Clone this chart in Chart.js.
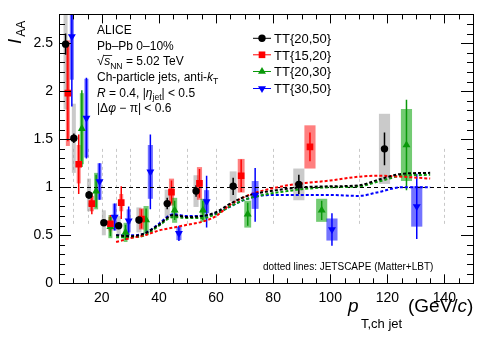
<!DOCTYPE html>
<html>
<head>
<meta charset="utf-8">
<script src="https://cdn.jsdelivr.net/npm/chart.js@4/dist/chart.umd.min.js"></script>
<style>
  html, body { margin: 0; padding: 0; background: #fff; }
</style>
</head>
<body>
<canvas id="chart" width="498" height="338"></canvas>
<script>
"use strict";

// TT{20,50}
const ptA = [7.3, 10.2, 15.5, 20.7, 25.9, 33.0, 42.9, 53.0, 66.0, 89.0, 119.0];
const iaaA = [2.49, 1.51, 0.92, 0.63, 0.60, 0.66, 0.83, 0.96, 1.01, 1.03, 1.40];
const statA = [0.11, 0.05, 0.04, 0.03, 0.03, 0.04, 0.06, 0.06, 0.09, 0.10, 0.17];
const sysA = [0.68, 0.36, 0.17, 0.13, 0.10, 0.13, 0.145, 0.165, 0.155, 0.165, 0.365];

// TT{15,20}
const ptB = [8.1, 11.9, 16.5, 23.0, 26.8, 33.9, 44.4, 54.2, 68.8, 92.9];
const iaaB = [1.98, 1.24, 0.83, 0.62, 0.84, 0.67, 0.95, 1.04, 1.12, 1.42];
const statB = [0.50, 0.31, 0.11, 0.09, 0.17, 0.10, 0.12, 0.15, 0.17, 0.15];
const sysB = [0.55, 0.20, 0.08, 0.07, 0.09, 0.11, 0.14, 0.17, 0.175, 0.225];

// TT{20,30}
const ptC = [13.0, 18.0, 23.0, 28.3, 35.5, 45.5, 55.4, 71.1, 97.0, 126.7];
const iaaC = [1.61, 0.96, 0.59, 0.53, 0.66, 0.76, 0.76, 0.72, 0.76, 1.44];
const statC = [0.40, 0.17, 0.10, 0.08, 0.12, 0.10, 0.10, 0.12, 0.10, 0.47];
const sysC = [0.37, 0.19, 0.12, 0.10, 0.145, 0.13, 0.12, 0.14, 0.12, 0.375];

// TT{30,50}
const ptD = [9.5, 14.6, 19.2, 24.5, 29.4, 37.0, 47.0, 56.7, 73.7, 100.6, 130.3];
const iaaD = [2.57, 1.72, 1.06, 0.69, 0.65, 1.16, 0.52, 0.85, 0.92, 0.56, 0.80];
const statD = [0.73, 0.42, 0.19, 0.14, 0.15, 0.39, 0.08, 0.27, 0.28, 0.17, 0.34];
const sysD = [0.45, 0.41, 0.19, 0.14, 0.12, 0.28, 0.07, 0.12, 0.145, 0.115, 0.21];

// JETSCAPE (Matter+LBT) curves
const jsPt = [25, 30, 35, 40, 45, 50, 55, 60, 65, 70, 75, 80, 85, 90, 100, 110, 117, 125, 135];
const jsA = [0.50, 0.49, 0.52, 0.61, 0.71, 0.69, 0.70, 0.74, 0.83, 0.90, 0.94, 0.965, 0.985, 1.0, 1.01, 1.02, 1.08, 1.14, 1.15];
const jsB = [0.43, 0.47, 0.50, 0.55, 0.58, 0.61, 0.64, 0.70, 0.82, 0.90, 0.955, 0.99, 1.02, 1.04, 1.07, 1.11, 1.12, 1.11, 1.09];
const jsC = [0.48, 0.48, 0.50, 0.60, 0.69, 0.68, 0.68, 0.72, 0.80, 0.87, 0.91, 0.94, 0.96, 0.98, 1.0, 1.01, 1.06, 1.12, 1.13];
const jsD = [0.50, 0.50, 0.52, 0.62, 0.72, 0.70, 0.70, 0.73, 0.80, 0.87, 0.91, 0.92, 0.92, 0.92, 0.92, 0.91, 0.95, 1.0, 1.0];

// bin edges (gray dashed guides)
const binEdges = [10, 15, 20, 25, 30, 40, 50, 60, 80, 110, 140];

const labels = ["TT{20,50}", "TT{15,20}", "TT{20,30}", "TT{30,50}"];

const FONT = '"Liberation Sans", Arial, Helvetica, sans-serif';
const GREEN = "#0a990a";

const series = [
  { pt: ptA, iaa: iaaA, stat: statA, sys: sysA, color: "#000000", box: "rgba(150,150,150,0.5)", style: "circle", radius: 3.7, rot: 0 },
  { pt: ptB, iaa: iaaB, stat: statB, sys: sysB, color: "#ff0000", box: "rgba(255,0,0,0.5)", style: "rect", radius: 4.7, rot: 0 },
  { pt: ptC, iaa: iaaC, stat: statC, sys: sysC, color: GREEN, box: "rgba(0,160,0,0.55)", style: "triangle", radius: 4.6, rot: 0 },
  { pt: ptD, iaa: iaaD, stat: statD, sys: sysD, color: "#0000ff", box: "rgba(0,0,255,0.55)", style: "triangle", radius: 4.6, rot: 180 },
];

function toXY(xs, ys) {
  return xs.map((x, i) => ({ x: x, y: ys[i] }));
}

// box half-width in GeV, wider bins at high pT
function boxHalf(pt) {
  if (pt < 30) return 0.7;
  if (pt < 60) return 0.9;
  if (pt < 80) return 1.2;
  return 1.95;
}

function drawMarker(ctx, style, x, y, r, rot, color) {
  ctx.fillStyle = color;
  ctx.beginPath();
  if (style === "circle") {
    ctx.arc(x, y, r, 0, Math.PI * 2);
  } else if (style === "rect") {
    const s = r * Math.SQRT1_2;
    ctx.rect(x - s, y - s, 2 * s, 2 * s);
  } else {
    let a = rot * Math.PI / 180;
    for (let k = 0; k < 3; k++) {
      const px = x + Math.sin(a) * r;
      const py = y - Math.cos(a) * r;
      if (k === 0) ctx.moveTo(px, py); else ctx.lineTo(px, py);
      a += Math.PI * 2 / 3;
    }
    ctx.closePath();
  }
  ctx.fill();
}

function richText(ctx, x, y, parts, size) {
  let cx = x;
  for (const [t, k] of parts) {
    const sub = k === "sub";
    const sz = sub ? size * 0.72 : size;
    ctx.font = (k === "i" ? "italic " : "") + sz + "px " + FONT;
    ctx.fillText(t, cx, sub ? y + size * 0.3 : y);
    cx += ctx.measureText(t).width;
  }
  return cx;
}

const overlay = {
  id: "overlay",
  beforeDatasetsDraw(chart) {
    const ctx = chart.ctx;
    const xs = chart.scales.x, ys = chart.scales.y;
    const a = chart.chartArea;
    ctx.save();
    ctx.beginPath();
    ctx.rect(a.left, a.top, a.right - a.left, a.bottom - a.top);
    ctx.clip();

    // gray bin guides
    ctx.strokeStyle = "#c8c8c8";
    ctx.lineWidth = 1;
    ctx.setLineDash([3, 3]);
    for (const e of binEdges) {
      const px = Math.round(xs.getPixelForValue(e)) + 0.5;
      ctx.beginPath();
      ctx.moveTo(px, ys.getPixelForValue(1.4));
      ctx.lineTo(px, ys.getPixelForValue(0.6));
      ctx.stroke();
    }
    ctx.setLineDash([]);

    // systematic boxes
    for (const s of series) {
      ctx.fillStyle = s.box;
      s.pt.forEach((p, i) => {
        const h = boxHalf(p);
        const x0 = xs.getPixelForValue(p - h), x1 = xs.getPixelForValue(p + h);
        const y0 = ys.getPixelForValue(s.iaa[i] + s.sys[i]), y1 = ys.getPixelForValue(s.iaa[i] - s.sys[i]);
        ctx.fillRect(x0, y0, x1 - x0, y1 - y0);
      });
    }
    // statistical error bars
    ctx.lineWidth = 1.5;
    for (const s of series) {
      ctx.strokeStyle = s.color;
      s.pt.forEach((p, i) => {
        const px = xs.getPixelForValue(p);
        ctx.beginPath();
        ctx.moveTo(px, ys.getPixelForValue(s.iaa[i] + s.stat[i]));
        ctx.lineTo(px, ys.getPixelForValue(s.iaa[i] - s.stat[i]));
        ctx.stroke();
      });
    }

    // unity line
    ctx.strokeStyle = "#000";
    ctx.lineWidth = 1;
    ctx.setLineDash([4, 3]);
    const py1 = Math.round(ys.getPixelForValue(1)) + 0.5;
    ctx.beginPath();
    ctx.moveTo(a.left, py1);
    ctx.lineTo(a.right, py1);
    ctx.stroke();
    ctx.restore();
  },
  afterDraw(chart) {
    const ctx = chart.ctx;
    const xs = chart.scales.x, ys = chart.scales.y;
    const a = chart.chartArea;
    ctx.save();

    // frame
    ctx.strokeStyle = "#000";
    ctx.lineWidth = 1;
    ctx.strokeRect(Math.round(a.left) + 0.5, Math.round(a.top) + 0.5,
      Math.round(a.right - a.left), Math.round(a.bottom - a.top));

    // inward ticks, all four sides
    ctx.beginPath();
    for (let v = 5; v <= 150; v += 5) {
      const px = Math.round(xs.getPixelForValue(v)) + 0.5;
      const len = v % 20 === 0 ? 9 : 5;
      ctx.moveTo(px, a.bottom); ctx.lineTo(px, a.bottom - len);
      ctx.moveTo(px, a.top); ctx.lineTo(px, a.top + len);
    }
    for (let k = 0; k <= 28; k++) {
      const py = Math.round(ys.getPixelForValue(k / 10)) + 0.5;
      const len = k % 5 === 0 ? 12 : 6;
      ctx.moveTo(a.left, py); ctx.lineTo(a.left + len, py);
      ctx.moveTo(a.right, py); ctx.lineTo(a.right - len, py);
    }
    ctx.stroke();

    ctx.fillStyle = "#000";
    ctx.textBaseline = "alphabetic";
    ctx.textAlign = "left";

    // x title
    richText(ctx, 348, 312, [["p", "i"]], 19);
    ctx.font = "13px " + FONT;
    ctx.fillText("T,ch jet", 361, 328);
    richText(ctx, 408, 312, [["(GeV/", ""], ["c", "i"], [")", ""]], 19);

    // y title (rotated)
    ctx.save();
    ctx.translate(21, 44);
    ctx.rotate(-Math.PI / 2);
    ctx.font = "italic 19px " + FONT;
    ctx.fillText("I", 0, 0);
    const wI = ctx.measureText("I").width;
    ctx.font = "12px " + FONT;
    ctx.fillText("AA", wI + 2, 4);
    ctx.restore();

    // annotations
    const ax = 97;
    richText(ctx, ax, 34, [["ALICE", ""]], 12);
    richText(ctx, ax, 49.5, [["Pb\u2013Pb 0\u201310%", ""]], 12);
    ctx.font = "13px " + FONT;
    ctx.fillText("\u221A", ax, 65);
    const sx = ax + ctx.measureText("\u221A").width;
    const ex = richText(ctx, sx, 65, [["s", "i"], ["NN", "sub"]], 12);
    ctx.lineWidth = 0.8;
    ctx.beginPath();
    ctx.moveTo(sx - 0.5, 55.5);
    ctx.lineTo(sx + 8, 55.5);
    ctx.stroke();
    richText(ctx, ex, 65, [[" = 5.02 TeV", ""]], 12);
    richText(ctx, ax, 80.5, [["Ch-particle jets, anti-", ""], ["k", "i"], ["T", "sub"]], 12);
    richText(ctx, ax, 96.5, [["R", "i"], [" = 0.4, |", ""], ["\u03B7", "i"], ["jet", "sub"], ["| < 0.5", ""]], 12);
    richText(ctx, ax, 112, [["|\u0394", ""], ["\u03C6", "i"], [" \u2212 \u03C0| < 0.6", ""]], 12);

    // legend
    const ly = [38.3, 54.8, 71.5, 88.5];
    series.forEach((s, i) => {
      ctx.strokeStyle = s.color;
      ctx.lineWidth = 1;
      ctx.beginPath();
      ctx.moveTo(253, ly[i]);
      ctx.lineTo(271, ly[i]);
      ctx.stroke();
      drawMarker(ctx, s.style, 262, ly[i], s.radius, s.rot, s.color);
      ctx.fillStyle = "#000";
      ctx.font = "13px " + FONT;
      ctx.fillText(labels[i], 274, ly[i] + 4.7);
    });

    ctx.font = "10px " + FONT;
    ctx.fillText("dotted lines: JETSCAPE (Matter+LBT)", 263, 270);
    ctx.restore();
  },
};

const dataSets = [];
series.forEach((s, i) => {
  dataSets.push({
    label: labels[i],
    data: toXY(s.pt, s.iaa),
    showLine: false,
    pointStyle: s.style,
    pointRadius: s.radius,
    pointRotation: s.rot,
    pointBackgroundColor: s.color,
    pointBorderWidth: 0,
    pointHoverRadius: s.radius,
  });
});
const curveColors = ["#000000", "#ff0000", GREEN, "#0000ff"];
[jsA, jsB, jsC, jsD].forEach((c, i) => {
  dataSets.push({
    type: "line",
    label: "JETSCAPE " + labels[i],
    data: toXY(jsPt, c),
    borderColor: curveColors[i],
    borderWidth: 2,
    borderDash: [3, 2],
    pointRadius: 0,
    fill: false,
    cubicInterpolationMode: "monotone",
  });
});

const ctx = document.getElementById("chart");
const chart = new Chart(ctx, {
  type: "scatter",
  data: { datasets: dataSets },
  options: {
    responsive: false,
    animation: false,
    layout: { padding: { left: 0, right: 25, top: 13, bottom: 0 } },
    plugins: { legend: { display: false }, tooltip: { enabled: false } },
    scales: {
      x: {
        type: "linear",
        min: 5,
        max: 150,
        afterFit: (s) => { s.height = 54.7; },
        grid: { display: false, drawTicks: false },
        border: { display: false },
        ticks: { stepSize: 20, includeBounds: false, color: "#000", padding: 6, maxRotation: 0, font: { size: 14, family: FONT } },
      },
      y: {
        type: "linear",
        min: 0,
        max: 2.8,
        afterFit: (s) => { s.width = 59; },
        grid: { display: false, drawTicks: false },
        border: { display: false },
        ticks: {
          stepSize: 0.5,
          includeBounds: false,
          color: "#000",
          padding: 6,
          font: { size: 14, family: FONT },
          callback: (v) => String(Math.round(v * 10) / 10),
        },
      },
    },
  },
  plugins: [overlay],
});
</script>
</body>
</html>
